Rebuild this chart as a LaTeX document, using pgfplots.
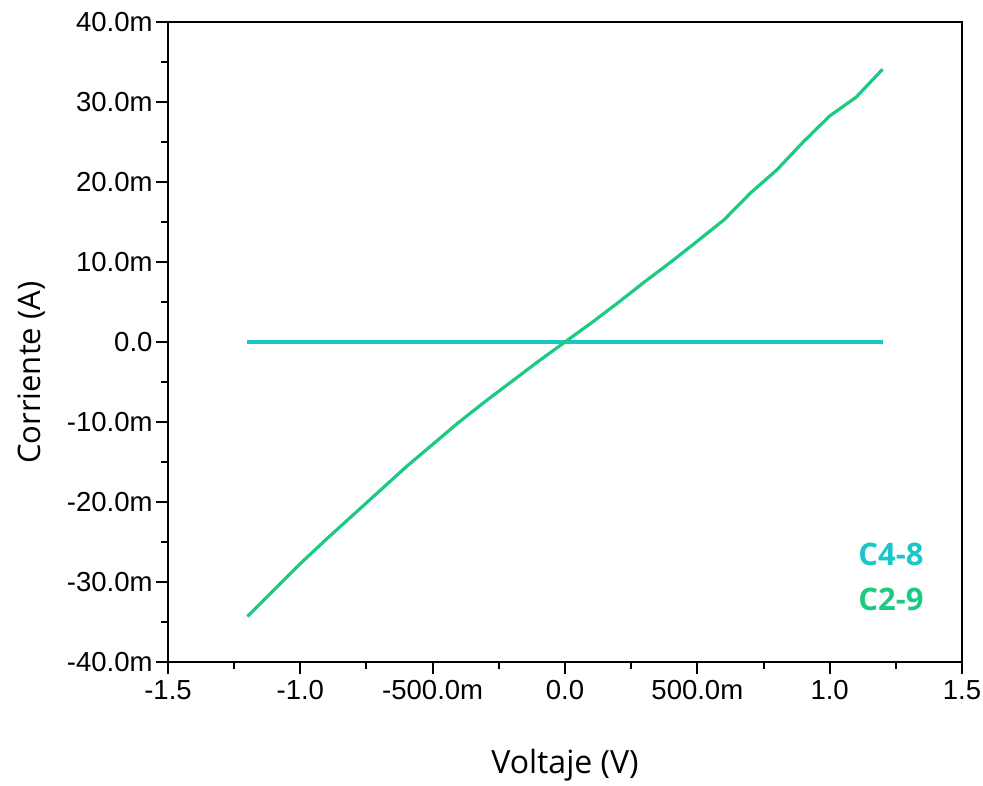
\documentclass[border=0pt]{standalone}
\usepackage{fontspec}
\setmainfont{Liberation Sans}
\newfontfamily\labelfont{Open Sans}
\usepackage{pgfplots}
\pgfplotsset{compat=1.18}

\definecolor{cfourcyan}{HTML}{1BC6C9}
\definecolor{ctwogreen}{HTML}{1DCB80}

\begin{document}
\begin{tikzpicture}
\begin{axis}[
  width=794pt, height=640pt, scale only axis,
  xmin=-1.5, xmax=1.5, ymin=-40, ymax=40,
  xtick={-1.5,-1,-0.5,0,0.5,1,1.5},
  xticklabels={-1.5,-1.0,-500.0m,0.0,500.0m,1.0,1.5},
  ytick={-40,-30,-20,-10,0,10,20,30,40},
  yticklabels={-40.0m,-30.0m,-20.0m,-10.0m,0.0,10.0m,20.0m,30.0m,40.0m},
  minor tick num=1,
  tick align=outside, xtick pos=bottom, ytick pos=left,
  major tick length=12pt, minor tick length=7pt,
  every tick/.style={black, line width=2pt},
  axis line style={line width=2.2pt},
  tick label style={font=\fontsize{27.5}{30}\selectfont},
  xticklabel style={yshift=-3pt},
  /pgf/number format/assume math mode=true,
  xlabel={Voltaje (V)}, ylabel={Corriente (A)},
  xlabel style={font=\labelfont\fontsize{32}{36}\selectfont,
    at={(axis description cs:0.5,-0.161)}, anchor=center},
  ylabel style={font=\labelfont\fontsize{31}{34}\selectfont,
    at={(axis description cs:-0.172,0.452)}, anchor=center, rotate=0},
  clip=false,
]
\coordinate (o) at (rel axis cs:0,0);
\addplot[color=cfourcyan, line width=3.2pt] coordinates {
  (-1.2,0) (-0.6,0) (0,0) (0.6,0) (1.2,0)
};
\addplot[color=ctwogreen, line width=3.2pt] coordinates {
  (-1.2,-34.3) (-1.1,-31.0) (-1.0,-27.7) (-0.9,-24.6) (-0.8,-21.6)
  (-0.7,-18.6) (-0.6,-15.6) (-0.5,-12.8) (-0.4,-10.0) (-0.3,-7.4)
  (-0.2,-4.9) (-0.1,-2.4) (0,0) (0.1,2.4) (0.2,4.9) (0.3,7.5)
  (0.4,10.0) (0.5,12.6) (0.6,15.25) (0.7,18.6) (0.8,21.5)
  (0.9,25.0) (1.0,28.25) (1.1,30.6) (1.2,34.1)
};
\node[anchor=east, text=cfourcyan, font=\labelfont\bfseries\fontsize{31}{34}\selectfont] at (rel axis cs:0.956,0.168) {C4-8};
\node[anchor=east, text=ctwogreen, font=\labelfont\bfseries\fontsize{31}{34}\selectfont] at (rel axis cs:0.956,0.097) {C2-9};
\end{axis}
\pgfresetboundingbox
\path[use as bounding box] (o) ++(-168pt,-123pt) rectangle ++(983pt,785pt);
\end{tikzpicture}
\end{document}
